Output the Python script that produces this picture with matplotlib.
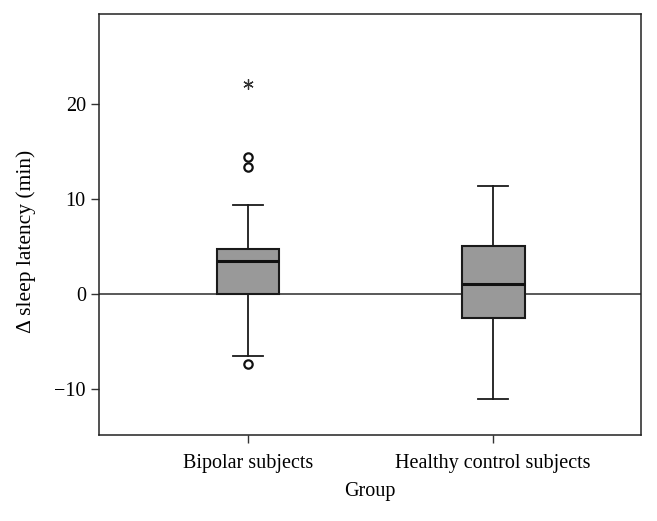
import matplotlib.pyplot as plt

plt.rcParams['font.family'] = ['Liberation Serif', 'DejaVu Serif']

groups = ['Bipolar subjects', 'Healthy control subjects']
q1 = [0.0, -2.5]
medians = [3.45, 1.1]
q3 = [4.75, 5.0]
whisker_low = [-6.55, -11.0]
whisker_high = [9.4, 11.4]
outliers = [[14.35, 13.35, -7.3], []]
extremes = [[22.1], []]

positions = [1, 2]

stats = []
for i in range(len(groups)):
    stats.append({
        'label': groups[i],
        'q1': q1[i], 'med': medians[i], 'q3': q3[i],
        'whislo': whisker_low[i], 'whishi': whisker_high[i],
        'fliers': outliers[i],
    })

fig = plt.figure(figsize=(6.57, 5.21), dpi=100)
ax = fig.add_axes([0.1507, 0.165, 0.825, 0.808])

ax.axhline(0, color='#2b2b2b', lw=1.1, zorder=1)

ax.bxp(stats, positions=positions, widths=0.257, patch_artist=True,
       boxprops=dict(facecolor='#999999', edgecolor='#1a1a1a', lw=1.5),
       medianprops=dict(color='#111111', lw=2.2),
       whiskerprops=dict(color='#1a1a1a', lw=1.3),
       capprops=dict(color='#1a1a1a', lw=1.3), capwidths=0.125,
       flierprops=dict(marker='o', markerfacecolor='none', markeredgecolor='#111111',
                       markersize=6, markeredgewidth=1.6),
       zorder=2)

for pos, ext in zip(positions, extremes):
    ax.plot([pos] * len(ext), ext, linestyle='none', marker=(6, 2, 0),
            color='#333333', markersize=7.5, markeredgewidth=0.9)

ax.set_xlim(0.392, 2.604)
ax.set_ylim(-14.8, 29.4)
ax.set_yticks([-10, 0, 10, 20])
ax.set_xticks(positions)
ax.set_xticklabels(groups)
ax.tick_params(axis='both', labelsize=14.5, length=6, width=1, direction='out', color='#333333')
ax.tick_params(axis='x', pad=8)
for s in ax.spines.values():
    s.set_color('#222222')
    s.set_linewidth(1.1)

ax.set_xlabel('Group', fontsize=14.5, labelpad=6)
ax.set_ylabel('Δ sleep latency (min)', fontsize=15.5)
ax.yaxis.set_label_coords(-0.117, 0.46)

fig.savefig('out.png', dpi=100)
